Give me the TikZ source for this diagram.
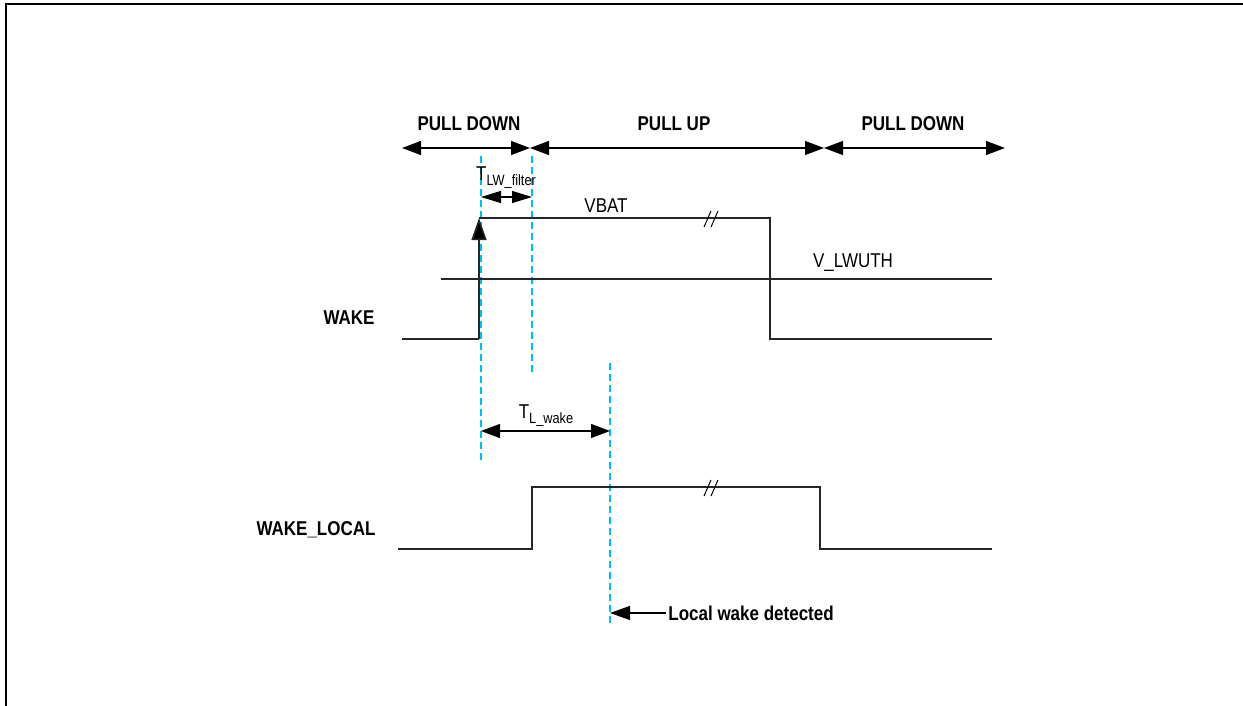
\documentclass[tikz,border=0pt]{standalone}
\usepackage{fontspec}
\setmainfont[FakeStretch=0.85]{Liberation Sans}
\usepackage{xcolor}
\usepackage{tikz}
\usetikzlibrary{arrows.meta}
\definecolor{guidecyan}{RGB}{0,190,240}

\begin{document}
\begin{tikzpicture}[x=0.5pt,y=-0.5pt,every node/.style={font=\fontsize{10}{12}\selectfont,inner sep=1pt},
  lbl/.style={font=\fontsize{10}{12}\selectfont\bfseries},
  wave/.style={line width=0.75pt,black!85},
  guide/.style={draw=guidecyan,line width=1.2pt,dash pattern=on 3.5pt off 2pt},
  span/.style={line width=0.6pt,{Triangle[length=9.5pt,width=7pt]}-{Triangle[length=9.5pt,width=7pt]}},
  short/.style={line width=0.6pt,{Triangle[length=10pt,width=6pt]}-{Triangle[length=10pt,width=6pt]}}]
  \useasboundingbox (0,0) rectangle (1243,706);
  \draw[line width=1pt] (6,706) -- (6,4) -- (1243,4);
  % phase arrows
  \coordinate (p0) at (402,148); \coordinate (p1) at (530,148);
  \coordinate (p2) at (824,148); \coordinate (p3) at (1005,148);
  \node[lbl] (pdn1) at (469,124) {PULL DOWN};
  \node[lbl] (pup) at (674,124) {PULL UP};
  \node[lbl] (pdn2) at (913,124) {PULL DOWN};
  \draw[span] (p0) -- (p1); \draw[span] (p1) -- (p2); \draw[span] (p2) -- (p3);
  % guides
  \coordinate (g1t) at (481,156); \coordinate (g1b) at (481,460);
  \coordinate (g2t) at (532,156); \coordinate (g2b) at (532,373);
  \coordinate (g3t) at (610,363); \coordinate (g3b) at (610,624);
  \draw[guide] (g1t) -- (g1b); \draw[guide] (g2t) -- (g2b); \draw[guide] (g3t) -- (g3b);
  % WAKE
  \node[lbl] (wake) at (349,318) {WAKE};
  \coordinate (w0) at (402,339); \coordinate (w1) at (479,339); \coordinate (w2) at (479,218);
  \coordinate (w3) at (770,218); \coordinate (w4) at (770,339); \coordinate (w5) at (992,339);
  \draw[wave] (w0) -- (w1);
  \draw[wave,-{Triangle[length=11pt,width=7.5pt,fill=black]}] (w1) -- (w2);
  \draw[wave] (w2) -- (w3) -- (w4) -- (w5);
  \draw[line width=0.5pt] (704,227) -- (711,211) (711,227) -- (718,211);
  \node (vbat) at (606,206) {VBAT};
  \coordinate (th0) at (441,279); \coordinate (th1) at (992,279);
  \draw[wave] (th0) -- (th1);
  \node (vth) at (853,263) {V\_LWUTH};
  \node (tf) at (506,178) {T\raisebox{-2.5pt}{\fontsize{7.5}{8}\selectfont LW\_filter}};
  \coordinate (tf0) at (481,197); \coordinate (tf1) at (532,197);
  \draw[short] (tf0) -- (tf1);
  % wake time
  \node (tw) at (546,416) {T\raisebox{-2.5pt}{\fontsize{7.5}{8}\selectfont L\_wake}};
  \coordinate (tw0) at (481,431); \coordinate (tw1) at (610,431);
  \draw[span] (tw0) -- (tw1);
  % WAKE_LOCAL
  \node[lbl] (wl) at (316,530) {WAKE\_LOCAL};
  \coordinate (l0) at (398,549); \coordinate (l1) at (532,549); \coordinate (l2) at (532,487);
  \coordinate (l3) at (820,487); \coordinate (l4) at (820,549); \coordinate (l5) at (992,549);
  \draw[wave] (l0) -- (l1) -- (l2) -- (l3) -- (l4) -- (l5);
  \draw[line width=0.5pt] (704,496) -- (711,480) (711,496) -- (718,480);
  % detected
  \node[lbl,anchor=west] (det) at (666,613) {Local wake detected};
  \coordinate (d0) at (610,613);
  \draw[line width=0.6pt,-{Triangle[length=10pt,width=7pt]}] (det.west) -- (d0);
\end{tikzpicture}
\end{document}
